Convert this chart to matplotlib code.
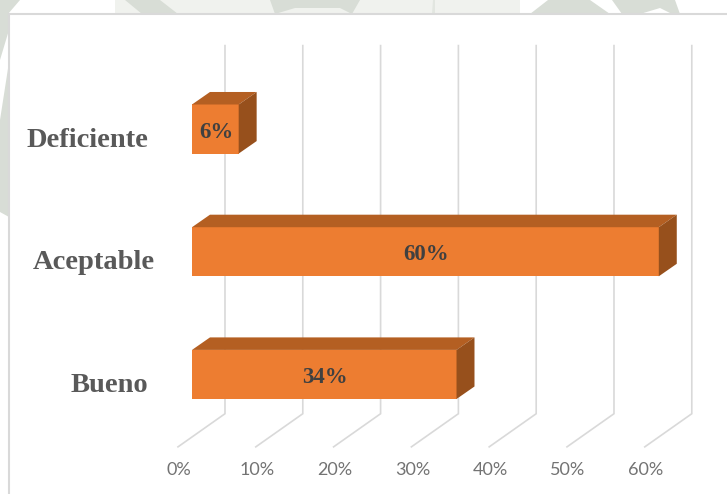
import matplotlib
matplotlib.use("Agg")
import matplotlib.pyplot as plt
from matplotlib.patches import Polygon, Rectangle
from matplotlib.transforms import Affine2D, ScaledTranslation

categories = ["Bueno", "Aceptable", "Deficiente"]
values = [34, 60, 6]
tick_values = [0, 10, 20, 30, 40, 50, 60]
tick_labels = ["0%", "10%", "20%", "30%", "40%", "50%", "60%"]

ORANGE = "#ED7D31"
ORANGE_TOP = "#B45F22"
ORANGE_SIDE = "#97501C"
GRID = "#D9D9D9"

W, H = 727, 494
fig = plt.figure(figsize=(W / 100, H / 100), dpi=100, facecolor="white")
# pixel coordinates, origin top left, for the page backdrop
px = Affine2D().scale(1 / W, -1 / H).translate(0, 1) + fig.transFigure

# faded crest behind the chart panel
backdrop = [
    ("#F0F2EE", [(115, 0), (520, 0), (520, 14), (115, 14)]),
    ("#D8DDD6", [(125, 0), (160, 0), (178, 14), (142, 14)]),
    ("#D8DDD6", [(270, 0), (360, 0), (352, 14), (340, 8), (295, 8), (275, 14)]),
    ("#E2E6E0", [(432, 14), (433, 0), (435, 0), (435, 14)]),
    ("#D8DDD6", [(530, 14), (548, 0), (590, 0), (610, 14)]),
    ("#D8DDD6", [(612, 0), (622, 14), (640, 14), (660, 8), (672, 14), (680, 14), (675, 0)]),
    ("#D8DDD6", [(0, 0), (20, 0), (8, 14), (9, 30), (0, 60)]),
    ("#D8DDD6", [(0, 120), (9, 62), (9, 217), (0, 212)]),
]
for color, pts in backdrop:
    fig.add_artist(Polygon(pts, closed=True, facecolor=color, edgecolor="none", transform=px, zorder=-2))

# white chart panel running off the right and bottom edges
fig.add_artist(Rectangle((9, 14), W, H, facecolor="white", edgecolor=GRID, lw=1.5, transform=px, zorder=-1))

ax = fig.add_axes([192 / W, 1 - 399 / H, 7.78 * 65 / W, (399 - 104.5) / H])
ax.set_xlim(0, 65)
ax.set_ylim(-0.2, 2.2)
ax.patch.set_alpha(0)
for s in ax.spines.values():
    s.set_visible(False)

# depth of the bars and of the back wall, in data units
bar_dx, bar_dy = 2.31, 0.102
wall_dx, wall_top, wall_floor = 4.24, 2.68, -0.32
floor_dx, floor_y = -1.8, -0.59

for t in tick_values:
    ax.plot([t + wall_dx, t + wall_dx, t + floor_dx], [wall_top, wall_floor, floor_y],
            color=GRID, lw=1.2, clip_on=False, zorder=1, solid_joinstyle="miter")

ypos = range(len(categories))
ax.barh(ypos, values, height=0.4, color=ORANGE, zorder=3)

for y, v in zip(ypos, values):
    y0, y1 = y - 0.2, y + 0.2
    top = [(0, y1), (v, y1), (v + bar_dx, y1 + bar_dy), (bar_dx, y1 + bar_dy)]
    side = [(v, y0), (v, y1), (v + bar_dx, y1 + bar_dy), (v + bar_dx, y0 + bar_dy)]
    ax.add_patch(Polygon(top, closed=True, facecolor=ORANGE_TOP, edgecolor="none", zorder=3, clip_on=False))
    ax.add_patch(Polygon(side, closed=True, facecolor=ORANGE_SIDE, edgecolor="none", zorder=3, clip_on=False))
    ax.annotate(f"{v}%", xy=(v / 2, y), xytext=(1, -3), textcoords="offset pixels",
                ha="center", va="center", fontsize=16.5, family="Liberation Serif",
                fontweight="bold", color="#404040", zorder=4)

# category names sit a little below their bars, right edges are not quite aligned
label_gap = [44, 37, 44]
for y, name, gap in zip(ypos, categories, label_gap):
    ax.annotate(name, xy=(0, y), xytext=(-gap, -11), textcoords="offset pixels",
                ha="right", va="center", fontsize=20.5, family="Liberation Serif",
                fontweight="bold", color="#595959", annotation_clip=False)

ax.set_yticks([])
ax.set_xticks(tick_values, tick_labels, family="Lato", fontsize=13, color="#737373")
ax.tick_params(axis="x", length=0, pad=45)
shift = ScaledTranslation(-13 / 100, 0, fig.dpi_scale_trans)
for lbl in ax.get_xticklabels():
    lbl.set_transform(lbl.get_transform() + shift)

fig.savefig("out.png", dpi=100)
